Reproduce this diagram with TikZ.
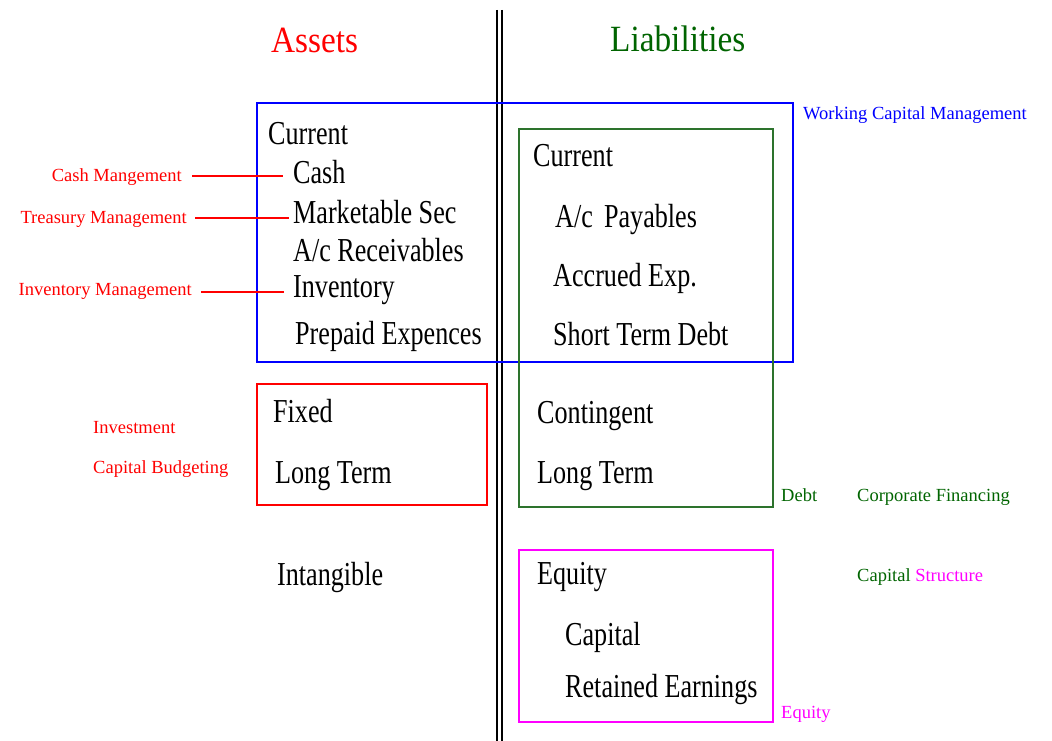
\documentclass[tikz,border=0pt]{standalone}
\usepackage{fontspec}
\setmainfont{Liberation Serif}
\newfontfamily\condfont[FakeStretch=0.78]{Liberation Serif}
\newfontfamily\headfont[FakeStretch=0.9]{Liberation Serif}
\definecolor{dkgreen}{RGB}{0,100,0}
\definecolor{boxgreen}{RGB}{45,115,45}
\definecolor{hotmag}{RGB}{255,0,255}

\begin{document}
\begin{tikzpicture}[x=1pt,y=-1pt,
item/.style={anchor=base west,inner sep=0,font=\condfont\fontsize{33.5}{38}\selectfont},
note/.style={anchor=base west,inner sep=0,font=\fontsize{18.5}{22}\selectfont},
head/.style={anchor=base west,inner sep=0,font=\headfont\fontsize{37}{44}\selectfont},
frame/.style={line width=2pt},
pointer/.style={red,line width=2pt}]
\useasboundingbox (0,0) rectangle (1052,741);

% titles and the double rule
\node[head,red] (assets) at (271,53) {Assets};
\node[head,dkgreen] (liab) at (610,52) {Liabilities};
\draw[line width=2pt] (497,10) -- (497,741);
\draw[line width=2pt] (502,10) -- (502,741);

% boxes
\draw[frame,blue] (257,103) rectangle (793,362);
\draw[frame,boxgreen] (519,129) rectangle (773,507);
\draw[frame,red] (257,384) rectangle (487,505);
\draw[frame,hotmag] (519,550) rectangle (773,722);

% assets side
\node[item] (curA) at (268,145) {Current};
\node[item] (cash) at (293,183) {Cash};
\node[item] (mksec) at (293,223) {Marketable Sec};
\node[item] (recv) at (293,261) {A/c Receivables};
\node[item] (inv) at (293,297) {Inventory};
\node[item] (prepaid) at (295,344) {Prepaid Expences};
\node[item] (fixed) at (273,422) {Fixed};
\node[item] (ltA) at (275,483) {Long Term};
\node[item] (intang) at (277,585) {Intangible};

% liabilities side
\node[item] (curL) at (533,167) {Current};
\node[item] (pay) at (555,227) {A/c\,\,Payables};
\node[item] (accr) at (553,286) {Accrued Exp.};
\node[item] (stdebt) at (553,345) {Short Term Debt};
\node[item] (conting) at (537,423) {Contingent};
\node[item] (ltL) at (537,483) {Long Term};
\node[item] (eq) at (537,584) {Equity};
\node[item] (cap) at (565,645) {Capital};
\node[item] (retain) at (565,697) {Retained Earnings};

% management notes
\node[note,red,anchor=base east] (cashmg) at (182,182) {Cash Mangement};
\node[note,red,anchor=base east] (treas) at (187,223) {Treasury Management};
\node[note,red,anchor=base east] (invmg) at (192,295) {Inventory Management};
\node[note,red] (invest) at (93,433) {Investment};
\node[note,red] (capbud) at (93,473) {Capital Budgeting};
\node[note,blue] (wcm) at (803,120) {Working Capital Management};
\node[note,dkgreen] (debt) at (781,501) {Debt};
\node[note,dkgreen] (corpfin) at (857,501) {Corporate Financing};
\node[note,dkgreen] (capstr) at (857,581) {Capital \textcolor{hotmag}{Structure}};
\node[note,hotmag] (eqnote) at (781,718) {Equity};

\draw[pointer] ([xshift=10pt,yshift=2pt]cashmg.east) -- ([xshift=-10pt,yshift=2pt]cashmg.east -| cash.west);
\draw[pointer] ([xshift=8pt,yshift=1pt]treas.east) -- ([xshift=-4pt,yshift=1pt]treas.east -| mksec.west);
\draw[pointer] ([xshift=9pt,yshift=-1pt]invmg.east) -- ([xshift=-9pt,yshift=-1pt]invmg.east -| inv.west);
\end{tikzpicture}
\end{document}
